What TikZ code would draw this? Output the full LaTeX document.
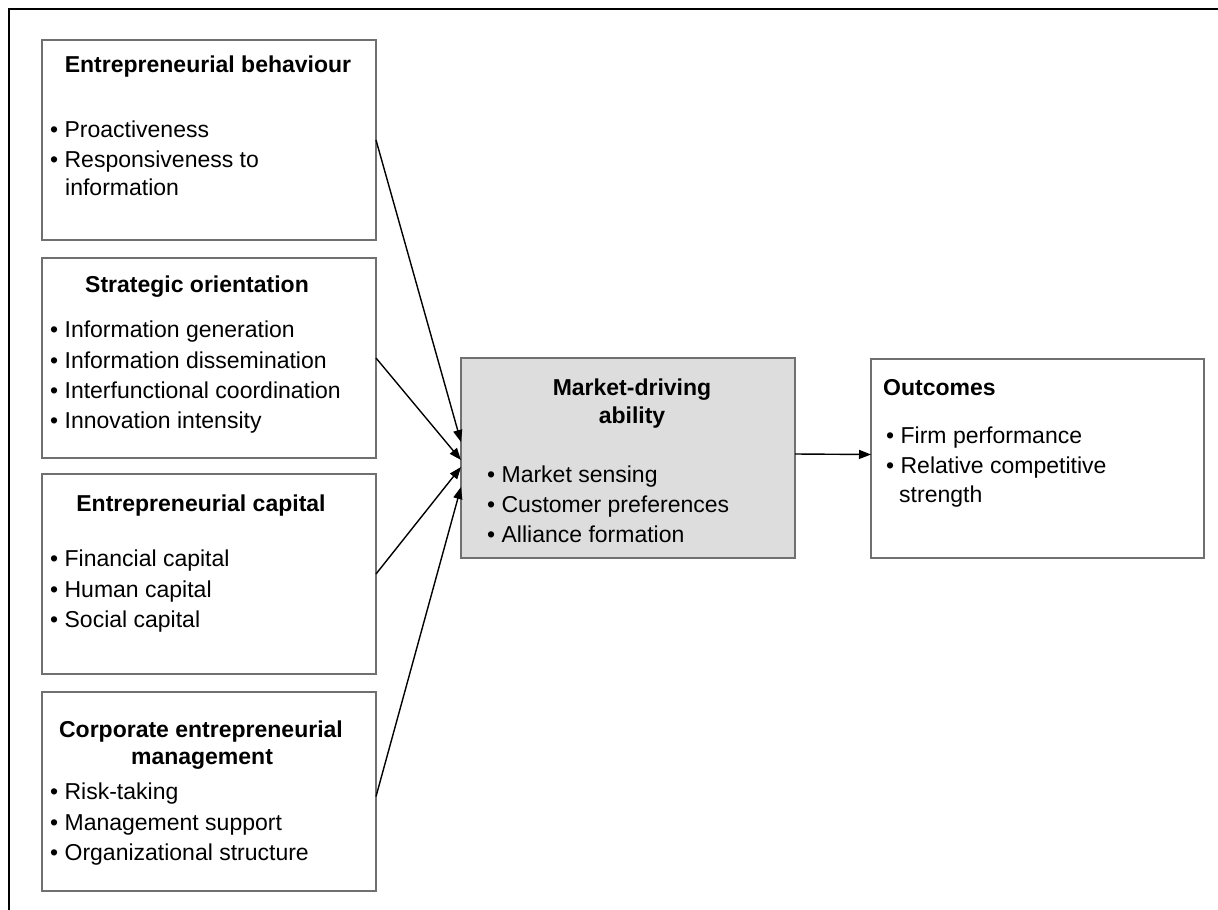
\documentclass[tikz,border=0pt]{standalone}
\usepackage{fontspec}
\setmainfont{Liberation Sans}
\usetikzlibrary{arrows.meta}
\definecolor{boxline}{HTML}{707070}
\definecolor{boxfill}{HTML}{DDDDDD}
\begin{document}
\begin{tikzpicture}[x=1pt,y=-1pt,
  box/.style={draw=boxline, line width=1.2pt, anchor=north west, inner sep=0pt, outer sep=0pt},
  ttl/.style={font=\fontsize{23}{27}\selectfont\bfseries, inner sep=0pt, anchor=base},
  ttlw/.style={font=\fontsize{23}{27}\selectfont\bfseries, inner sep=0pt, anchor=base west},
  txt/.style={font=\fontsize{23}{27}\selectfont, inner sep=0pt, anchor=base west},
  conn/.style={line width=1.4pt, -{Triangle[length=12pt,width=9pt]}}]
\useasboundingbox (0,0) rectangle (1218,910);
\fill[white] (0,0) rectangle (1218,910);
\draw[line width=2pt] (9,910) -- (9,9) -- (1218,9);

% boxes
\node[box, minimum width=334pt, minimum height=200pt] (b1) at (42,40) {};
\node[box, minimum width=334pt, minimum height=200pt] (b2) at (42,258) {};
\node[box, minimum width=334pt, minimum height=200pt] (b3) at (42,474) {};
\node[box, minimum width=334pt, minimum height=199pt] (b4) at (42,692) {};
\node[box, fill=boxfill, minimum width=334pt, minimum height=200pt] (m) at (461,358) {};
\node[box, minimum width=333pt, minimum height=199pt] (o) at (871,359) {};

% box 1
\node[ttl] (t1) at (208,72) {Entrepreneurial behaviour};
\node[txt] (t1a) at (50,137) {•\ Proactiveness};
\node[txt] (t1b) at (50,167) {•\ Responsiveness to};
\node[txt] (t1c) at (65,195) {information};

% box 2
\node[ttl] (t2) at (197,292) {Strategic orientation};
\node[txt] (t2a) at (50,337) {•\ Information generation};
\node[txt] (t2b) at (50,368) {•\ Information dissemination};
\node[txt] (t2c) at (50,398) {•\ Interfunctional coordination};
\node[txt] (t2d) at (50,428) {•\ Innovation intensity};

% box 3
\node[ttl] (t3) at (201,511) {Entrepreneurial capital};
\node[txt] (t3a) at (50,566) {•\ Financial capital};
\node[txt] (t3b) at (50,597) {•\ Human capital};
\node[txt] (t3c) at (50,627) {•\ Social capital};

% box 4
\node[ttl] (t4) at (201,737) {Corporate entrepreneurial};
\node[ttl] (t4x) at (202,764) {management};
\node[txt] (t4a) at (50,799) {•\ Risk-taking};
\node[txt] (t4b) at (50,830) {•\ Management support};
\node[txt] (t4c) at (50,860) {•\ Organizational structure};

% centre
\node[ttl] (tm) at (632,395) {Market-driving};
\node[ttl] (tmx) at (632,423) {ability};
\node[txt] (tma) at (487,482) {•\ Market sensing};
\node[txt] (tmb) at (487,512) {•\ Customer preferences};
\node[txt] (tmc) at (487,542) {•\ Alliance formation};

% outcomes
\node[ttlw] (to) at (883,395) {Outcomes};
\node[txt] (toa) at (886,443) {•\ Firm performance};
\node[txt] (tob) at (886,473) {•\ Relative competitive};
\node[txt] (toc) at (899,502) {strength};

% connectors
\draw[conn] (b1.east) -- ([yshift=16pt]m.west);
\draw[conn] (b2.east) -- ([yshift=-2pt]m.west);
\draw[conn] (b3.east) -- ([yshift=-9pt]m.west);
\draw[conn] ([yshift=-5pt]b4.east) -- ([yshift=-29pt]m.west);
\draw[conn] ([yshift=4pt]m.east) -- ([yshift=4pt]o.west);
\end{tikzpicture}
\end{document}
